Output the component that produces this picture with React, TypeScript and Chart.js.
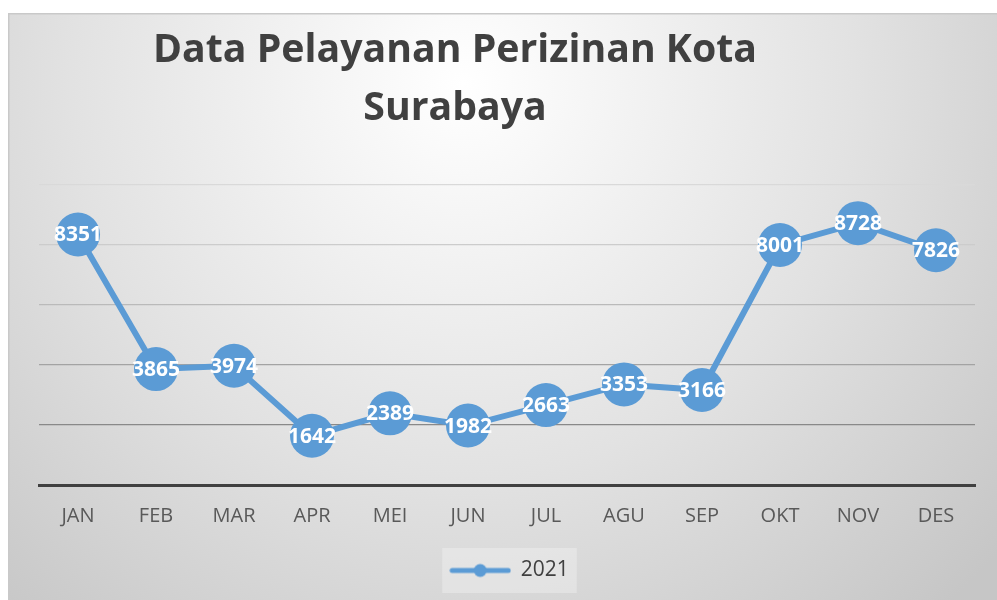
import React, { useEffect, useRef } from 'react';
import { Chart, registerables } from 'chart.js';

Chart.register(...registerables);

const months = ['JAN', 'FEB', 'MAR', 'APR', 'MEI', 'JUN', 'JUL', 'AGU', 'SEP', 'OKT', 'NOV', 'DES'];
const series2021 = [8351, 3865, 3974, 1642, 2389, 1982, 2663, 3353, 3166, 8001, 8728, 7826];
const seriesLabel = '2021';
const titleLines = ['Data Pelayanan Perizinan Kota', 'Surabaya'];
const yMin = 0;
const yMax = 10000;
const yStep = 2000;

const BLUE = '#5B9BD5';
const FONT = '"Open Sans", "Liberation Sans", sans-serif';
const gridColors = ['rgba(0,0,0,0)', '#898989', '#a3a3a3', '#bababa', '#cccccc', '#d9d9d9'];

function makeLegendMarker(): HTMLCanvasElement {
  const c = document.createElement('canvas');
  c.width = 62;
  c.height = 16;
  const g = c.getContext('2d')!;
  g.strokeStyle = BLUE;
  g.lineWidth = 5;
  g.lineCap = 'round';
  g.beginPath();
  g.moveTo(3, 8);
  g.lineTo(59, 8);
  g.stroke();
  g.fillStyle = BLUE;
  g.beginPath();
  g.arc(31, 8, 6.5, 0, Math.PI * 2);
  g.fill();
  return c;
}

const backgroundPlugin = {
  id: 'panelBackground',
  beforeDraw(chart: any) {
    const { ctx, width, height } = chart;
    ctx.save();
    const grd = ctx.createRadialGradient(width * 0.46, height * 0.12, 0, width * 0.46, height * 0.12, width * 0.72);
    grd.addColorStop(0, '#ffffff');
    grd.addColorStop(0.55, '#e2e2e2');
    grd.addColorStop(1, '#c6c6c6');
    ctx.fillStyle = grd;
    ctx.fillRect(0, 0, width, height);
    ctx.strokeStyle = '#c9c9c9';
    ctx.lineWidth = 1.5;
    ctx.beginPath();
    ctx.moveTo(0.75, height);
    ctx.lineTo(0.75, 0.75);
    ctx.lineTo(width, 0.75);
    ctx.stroke();
    const boxes = chart.legend && chart.legend.legendHitBoxes;
    if (boxes && boxes.length) {
      const b = boxes[0];
      ctx.fillStyle = 'rgba(255,255,255,0.28)';
      ctx.fillRect(b.left - 8, b.top - 12, b.width + 16, b.height + 24);
    }
    ctx.restore();
  },
};

const titlePlugin = {
  id: 'customTitle',
  afterDraw(chart: any) {
    const { ctx } = chart;
    ctx.save();
    let size = 36;
    ctx.font = `bold ${size}px ${FONT}`;
    const w = ctx.measureText(titleLines[0]).width;
    size = size * (604 / w);
    ctx.font = `bold ${size}px ${FONT}`;
    ctx.fillStyle = '#404040';
    ctx.textAlign = 'center';
    ctx.textBaseline = 'alphabetic';
    ctx.fillText(titleLines[0], 447, 49);
    ctx.fillText(titleLines[1], 447, 107);
    ctx.restore();
  },
};

const valueLabelPlugin = {
  id: 'valueLabels',
  afterDatasetsDraw(chart: any) {
    const { ctx } = chart;
    ctx.save();
    ctx.font = `bold 21px ${FONT}`;
    ctx.fillStyle = '#ffffff';
    ctx.textAlign = 'center';
    ctx.textBaseline = 'middle';
    chart.data.datasets.forEach((ds: any, i: number) => {
      const meta = chart.getDatasetMeta(i);
      meta.data.forEach((pt: any, j: number) => {
        ctx.fillText(String(ds.data[j]), pt.x, pt.y + 1);
      });
    });
    ctx.restore();
  },
};

export default function App() {
  const ref = useRef<HTMLCanvasElement | null>(null);

  useEffect(() => {
    if (!ref.current) return;
    const marker = makeLegendMarker();
    const chart = new Chart(ref.current, {
      type: 'line',
      data: {
        labels: months,
        datasets: [
          {
            label: seriesLabel,
            data: series2021,
            borderColor: BLUE,
            backgroundColor: BLUE,
            borderWidth: 6,
            pointRadius: 22,
            pointHoverRadius: 22,
            pointBackgroundColor: BLUE,
            pointBorderWidth: 0,
            tension: 0,
          },
        ],
      },
      options: {
        animation: false,
        responsive: true,
        maintainAspectRatio: false,
        layout: { padding: { left: 31, right: 17, top: 172, bottom: 9 } },
        plugins: {
          title: { display: false },
          tooltip: { enabled: false },
          legend: {
            display: true,
            position: 'bottom',
            labels: {
              usePointStyle: true,
              pointStyle: marker as any,
              pointStyleWidth: 60,
              padding: 20,
              color: '#404040',
              font: { family: FONT, size: 21 },
            },
          },
        },
        scales: {
          x: {
            offset: true,
            grid: { display: false, drawTicks: false },
            border: { display: true, color: '#404040', width: 3 },
            ticks: {
              color: '#595959',
              padding: 19,
              font: { family: FONT, size: 20 },
            },
            afterFit(scale: any) {
              scale.height = 55;
            },
          },
          y: {
            min: yMin,
            max: yMax,
            ticks: { display: false, stepSize: yStep },
            grid: {
              drawTicks: false,
              lineWidth: 1.3,
              color: (c: any) => gridColors[c.index] || '#d9d9d9',
            },
            border: { display: false },
          },
        },
      },
      plugins: [backgroundPlugin, titlePlugin, valueLabelPlugin],
    });
    return () => chart.destroy();
  }, []);

  return (
    <div style={{ position: 'absolute', left: 8, top: 13, width: 989, height: 587 }}>
      <canvas ref={ref} />
    </div>
  );
}
